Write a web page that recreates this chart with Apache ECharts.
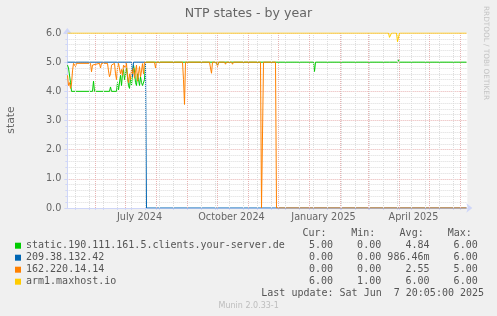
<!DOCTYPE html>
<html><head><meta charset="utf-8">
<script src="https://cdn.jsdelivr.net/npm/echarts@6/dist/echarts.min.js"></script>
<style>html,body{margin:0;padding:0;background:#F0F0F0}#c{width:497px;height:316px}</style>
</head><body><div id="c"></div>
<script>
// ---------- data ----------
const seriesNames = ['static.190.111.161.5.clients.your-server.de', '209.38.132.42', '162.220.14.14', 'arm1.maxhost.io'];
const seriesColors = ['#00CC00', '#0066B3', '#FF8000', '#FFCC00'];

const staticPoints = [
 ['2024-05-04',4.9],['2024-05-05',4.8],['2024-05-07',4.3],['2024-05-08',4.0],['2024-05-29',4.0],['2024-05-30',4.35],['2024-05-31',4.0],
 ['2024-06-15',4.0],['2024-06-16',4.15],['2024-06-17',4.0],['2024-06-22',4.0],['2024-06-23',4.3],['2024-06-24',4.05],['2024-06-25',4.1],
 ['2024-06-26',4.55],['2024-06-27',4.2],['2024-06-28',4.6],['2024-06-29',4.75],['2024-06-30',4.4],['2024-07-01',4.6],['2024-07-02',4.8],
 ['2024-07-03',4.5],['2024-07-04',4.2],['2024-07-05',4.1],['2024-07-06',4.5],['2024-07-07',4.2],['2024-07-08',4.6],['2024-07-09',4.9],
 ['2024-07-10',4.7],['2024-07-11',4.3],['2024-07-12',4.2],['2024-07-13',4.6],['2024-07-14',4.4],['2024-07-15',4.2],['2024-07-16',4.5],
 ['2024-07-17',4.3],['2024-07-18',4.2],['2024-07-19',4.15],['2024-07-20',4.4],['2024-07-21',5.0],['2024-09-30',5.0],['2024-10-01',4.9],
 ['2024-10-02',5.0],['2025-01-05',5.0],['2025-01-06',4.68],['2025-01-07',5.0],['2025-03-22',5.0],['2025-03-23',5.04],['2025-03-24',5.0],
 ['2025-03-30',5.0],['2025-03-31',5.08],['2025-04-01',5.0],['2025-06-07',5.0]
];
const ip209Points = [
 ['2024-05-04',5.0],['2024-07-07',5.0],['2024-07-08',4.5],['2024-07-09',5.0],['2024-07-21',5.0],['2024-07-22',0],['2025-06-07',0]
];
const ip162Points = [
 ['2024-05-04',4.55],['2024-05-05',4.2],['2024-05-06',4.3],['2024-05-07',4.1],['2024-05-08',4.25],['2024-05-09',4.7],['2024-05-10',4.96],
 ['2024-05-11',4.96],['2024-05-12',4.85],['2024-05-13',4.96],['2024-05-27',4.96],['2024-05-28',4.67],['2024-05-29',4.9],['2024-05-30',4.96],
 ['2024-06-05',4.96],['2024-06-06',4.8],['2024-06-07',4.96],['2024-06-13',4.96],['2024-06-14',4.7],['2024-06-15',4.5],['2024-06-16',4.6],
 ['2024-06-17',4.9],['2024-06-18',4.96],['2024-06-20',4.96],['2024-06-21',4.6],['2024-06-22',4.4],['2024-06-23',4.8],['2024-06-24',4.96],
 ['2024-06-25',4.9],['2024-06-26',4.6],['2024-06-27',4.75],['2024-06-28',4.55],['2024-06-29',4.9],['2024-06-30',4.96],['2024-07-01',4.8],
 ['2024-07-02',4.96],['2024-07-03',4.5],['2024-07-04',4.3],['2024-07-05',4.6],['2024-07-06',4.4],['2024-07-07',4.75],['2024-07-08',4.6],
 ['2024-07-09',4.8],['2024-07-10',4.45],['2024-07-11',4.7],['2024-07-12',4.9],['2024-07-13',4.35],['2024-07-14',4.6],['2024-07-15',4.85],
 ['2024-07-16',4.5],['2024-07-17',4.7],['2024-07-18',4.95],['2024-07-19',4.6],['2024-07-20',5.0],['2024-07-30',5.0],['2024-07-31',4.8],
 ['2024-08-01',5.0],['2024-08-27',5.0],['2024-08-28',4.4],['2024-08-29',3.55],['2024-08-30',5.0],['2024-09-23',5.0],['2024-09-24',4.8],
 ['2024-09-25',4.62],['2024-09-26',5.0],['2024-09-30',5.0],['2024-10-01',4.85],['2024-10-02',5.0],['2024-10-08',5.0],['2024-10-09',4.93],
 ['2024-10-10',5.0],['2024-10-15',5.0],['2024-10-16',4.93],['2024-10-17',5.0],['2024-11-13',5.0],['2024-11-14',0],['2024-11-15',0],
 ['2024-11-16',5.0],['2024-11-28',5.0],['2024-11-29',0],['2025-06-07',0]
];
const arm1Points = [
 ['2024-05-04',6],['2025-03-21',6],['2025-03-22',5.85],['2025-03-23',5.82],['2025-03-24',6],['2025-03-29',6],['2025-03-30',5.7],
 ['2025-03-31',5.68],['2025-04-01',6],['2025-06-07',6]
];

const timeStart = '2024-05-03 20:05';
const timeEnd = '2025-06-07 20:05';
const xLabelDates = ['2024-07-15', '2024-10-15', '2025-01-15', '2025-04-15'];
const xLabelTexts = ['July 2024', 'October 2024', 'January 2025', 'April 2025'];
const majorGridDates = ['2024-06-01','2024-07-01','2024-08-01','2024-09-01','2024-10-01','2024-11-01','2024-12-01',
  '2025-01-01','2025-02-01','2025-03-01','2025-04-01','2025-05-01','2025-06-01'];
const minorGridDates = ['2024-05-12','2024-05-26','2024-06-09','2024-06-23','2024-07-07','2024-07-21','2024-08-04','2024-08-18',
  '2024-09-01','2024-09-15','2024-09-29','2024-10-13','2024-10-27','2024-11-10','2024-11-24','2024-12-08','2024-12-22',
  '2025-01-05','2025-01-19','2025-02-02','2025-02-16','2025-03-02','2025-03-16','2025-03-30','2025-04-13','2025-04-27',
  '2025-05-11','2025-05-25'];
const yMin = 0, yMax = 6, yStep = 1;

const statHeaders = ['Cur:', 'Min:', 'Avg:', 'Max:'];
const curVals = ['5.00', '0.00', '0.00', '6.00'];
const minVals = ['0.00', '0.00', '0.00', '1.00'];
const avgVals = ['4.84', '986.46m', '2.55', '6.00'];
const maxVals = ['6.00', '6.00', '5.00', '6.00'];
const titleText = 'NTP states - by year';
const yName = 'state';
const lastUpdate = 'Last update: Sat Jun  7 20:05:00 2025';
const versionText = 'Munin 2.0.33-1';
const watermark = 'RRDTOOL / TOBI OETIKER';

// ---------- helpers ----------
function t(s) {
  const m = s.match(/(\d+)-(\d+)-(\d+)(?:\s+(\d+):(\d+))?/);
  return new Date(+m[1], +m[2] - 1, +m[3], m[4] ? +m[4] : 0, m[5] ? +m[5] : 0).getTime();
}
const conv = pts => pts.map(p => [t(p[0]), p[1]]);
const allPoints = [staticPoints, ip209Points, ip162Points, arm1Points];
const labelMap = {};
xLabelDates.forEach((d, i) => { labelMap[t(d)] = xLabelTexts[i]; });

const AXIS = '#CFD6F8';
const FONT = '"DejaVu Sans", "Noto Sans", sans-serif';
const MONO = '"DejaVu Sans Mono", "Liberation Mono", monospace';
const MINOR = '#dcdcdc';
const MAJOR = '#e8b4b4';

const chart = echarts.init(document.getElementById('c'), null, { renderer: 'canvas' });

const series = [];
series.push({
  type: 'line', data: [], z: 1, silent: true, animation: false,
  markLine: {
    silent: true, symbol: ['none', 'none'], label: { show: false }, animation: false,
    lineStyle: { color: MINOR, width: 1, type: [1, 1] },
    emphasis: { disabled: true },
    data: minorGridDates.map(d => ({ xAxis: t(d) }))
  }
});
series.push({
  type: 'line', data: [], z: 1, silent: true, animation: false,
  markLine: {
    silent: true, symbol: ['none', 'none'], label: { show: false }, animation: false,
    lineStyle: { color: MAJOR, width: 1, type: [1, 1] },
    emphasis: { disabled: true },
    data: majorGridDates.map(d => ({ xAxis: t(d) }))
  }
});
seriesNames.forEach((name, i) => {
  series.push({
    name, type: 'line', data: conv(allPoints[i]), showSymbol: false, symbol: 'none',
    lineStyle: { color: seriesColors[i], width: 1 }, itemStyle: { color: seriesColors[i] },
    animation: false, z: 2 + i, emphasis: { disabled: true }
  });
});

const graphic = [];
const colX = [302.5, 351.2, 399.6, 447.8];
const valRight = [333, 381.2, 429.5, 477.7];
const rowY = [245.7, 257.7, 269.6, 281.7];
statHeaders.forEach((h, i) => graphic.push({ type: 'text', x: colX[i], y: 233.3,
  style: { text: h, font: '10px ' + MONO, fill: '#555', align: 'left', verticalAlign: 'middle' } }));
[curVals, minVals, avgVals, maxVals].forEach((col, c) => col.forEach((v, r) => graphic.push({
  type: 'text', x: valRight[c], y: rowY[r],
  style: { text: v, font: '10px ' + MONO, fill: '#555', align: 'right', verticalAlign: 'middle' } })));
graphic.push({ type: 'text', x: 261.3, y: 293.7,
  style: { text: lastUpdate, font: '10px ' + MONO, fill: '#555', align: 'left', verticalAlign: 'middle' } });
graphic.push({ type: 'text', x: 248.7, y: 305.7,
  style: { text: versionText, font: '8px ' + FONT, fill: '#bdbdbd', align: 'center', verticalAlign: 'middle' } });
graphic.push({ type: 'text', x: 486, y: 53, rotation: -Math.PI / 2,
  style: { text: watermark, font: '7.3px ' + FONT, fill: '#c4c4c4', align: 'center', verticalAlign: 'middle' } });
graphic.push({ type: 'text', x: 11, y: 120, rotation: Math.PI / 2,
  style: { text: yName, font: '10.8px ' + FONT, fill: '#666', align: 'center', verticalAlign: 'middle' } });

chart.setOption({
  backgroundColor: '#F0F0F0',
  animation: false,
  title: { text: titleText, left: 'center', top: 7, padding: 0,
    textStyle: { fontFamily: FONT, fontSize: 12.6, fontWeight: 'normal', color: '#666' } },
  legend: {
    orient: 'vertical', left: 15, top: 239.7, padding: 0, itemGap: 0,
    itemWidth: 6, itemHeight: 6, icon: 'rect', selectedMode: false,
    textStyle: { fontFamily: MONO, fontSize: 10, color: '#555', lineHeight: 12 },
    data: seriesNames
  },
  grid: { left: 67.337, right: 29.663, top: 33, bottom: 108, show: true, backgroundColor: '#FFFFFF', borderWidth: 0 },
  xAxis: {
    type: 'value', min: t(timeStart), max: t(timeEnd), scale: true,
    axisLine: { show: true, lineStyle: { color: AXIS, width: 1 }, symbol: ['none', 'arrow'], symbolSize: [7, 6], symbolOffset: [0, 5] },
    axisTick: { show: true, length: 2, lineStyle: { color: AXIS }, customValues: minorGridDates.concat(majorGridDates).map(t) },
    axisLabel: { show: true, customValues: xLabelDates.map(t), formatter: v => labelMap[v] || '',
      fontFamily: FONT, fontSize: 9.7, color: '#666', margin: 4 },
    splitLine: { show: false }
  },
  yAxis: {
    type: 'value', min: yMin, max: yMax, interval: yStep,
    axisLine: { show: true, lineStyle: { color: AXIS, width: 1 }, symbol: ['none', 'arrow'], symbolSize: [7, 6], symbolOffset: [0, 5] },
    axisTick: { show: true, length: 3, lineStyle: { color: AXIS } },
    minorTick: { show: true, splitNumber: 5, length: 2, lineStyle: { color: AXIS } },
    axisLabel: { formatter: v => v.toFixed(1), fontFamily: FONT, fontSize: 9.7, color: '#666', margin: 6 },
    splitLine: { show: true, lineStyle: { color: MAJOR, width: 1, type: [1, 1] } },
    minorSplitLine: { show: true, lineStyle: { color: MINOR, width: 1, type: [1, 1] } }
  },
  graphic,
  series
});
</script></body></html>
